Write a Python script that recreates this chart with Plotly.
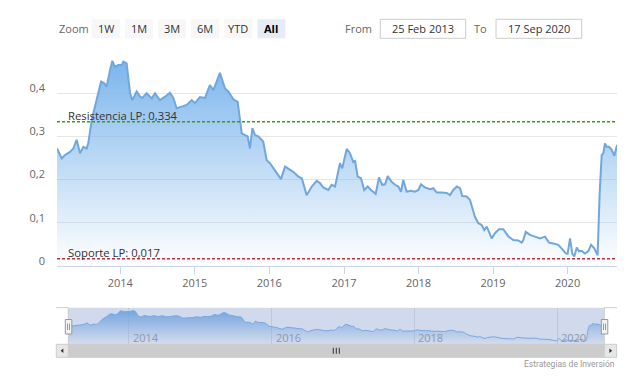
import plotly.graph_objects as go

# ---------------- data ----------------
dates = [
    "2013-02-25", "2013-03-20", "2013-04-05", "2013-04-30", "2013-05-16", "2013-06-01",
    "2013-06-18", "2013-07-04", "2013-07-20", "2013-07-28", "2013-08-14", "2013-09-07",
    "2013-09-29", "2013-10-15", "2013-10-26", "2013-11-12", "2013-11-23", "2013-12-06",
    "2013-12-22", "2014-01-08", "2014-01-16", "2014-02-01", "2014-02-18", "2014-03-01",
    "2014-03-22", "2014-04-08", "2014-04-19", "2014-05-10", "2014-06-04", "2014-06-20",
    "2014-07-14", "2014-08-08", "2014-09-01", "2014-09-18", "2014-10-04", "2014-10-29",
    "2014-11-22", "2014-12-17", "2015-01-02", "2015-01-26", "2015-02-20", "2015-03-16",
    "2015-04-02", "2015-05-04", "2015-05-29", "2015-06-14", "2015-07-09", "2015-07-30",
    "2015-08-19", "2015-09-04", "2015-09-17", "2015-09-28", "2015-10-10", "2015-10-23",
    "2015-11-08", "2015-12-02", "2015-12-19", "2016-01-04", "2016-01-29", "2016-02-27",
    "2016-03-18", "2016-04-11", "2016-04-27", "2016-05-22", "2016-06-08", "2016-07-02",
    "2016-07-27", "2016-08-20", "2016-09-05", "2016-09-21", "2016-10-16", "2016-11-01",
    "2016-11-18", "2016-12-12", "2016-12-23", "2017-01-14", "2017-01-30", "2017-02-15",
    "2017-02-24", "2017-03-09", "2017-03-25", "2017-04-10", "2017-04-27", "2017-05-13",
    "2017-06-05", "2017-06-21", "2017-07-07", "2017-07-21", "2017-08-03", "2017-08-22",
    "2017-09-08", "2017-09-24", "2017-10-07", "2017-10-18", "2017-11-04", "2017-11-25",
    "2017-12-14", "2017-12-31", "2018-01-13", "2018-02-01", "2018-02-26", "2018-03-14",
    "2018-03-31", "2018-04-24", "2018-05-19", "2018-06-04", "2018-06-20", "2018-07-07",
    "2018-07-23", "2018-08-03", "2018-08-25", "2018-09-10", "2018-09-21", "2018-10-04",
    "2018-10-21", "2018-11-06", "2018-11-19", "2018-12-01", "2018-12-12", "2018-12-25",
    "2019-01-10", "2019-01-30", "2019-02-20", "2019-03-04", "2019-03-16", "2019-04-10",
    "2019-05-04", "2019-05-21", "2019-05-29", "2019-06-10", "2019-07-01", "2019-07-25",
    "2019-08-19", "2019-09-12", "2019-10-02", "2019-10-23", "2019-11-16", "2019-12-06",
    "2019-12-23", "2020-01-01", "2020-01-13", "2020-01-24", "2020-02-03", "2020-02-15",
    "2020-02-26", "2020-03-10", "2020-03-26", "2020-04-11", "2020-04-25", "2020-05-11",
    "2020-05-27", "2020-06-06", "2020-06-16", "2020-06-24", "2020-07-02", "2020-07-10",
    "2020-07-22", "2020-08-04", "2020-08-17", "2020-08-30",
]
values = [
    0.272, 0.249, 0.257, 0.264, 0.272, 0.292,
    0.261, 0.276, 0.272, 0.284, 0.338, 0.384,
    0.427, 0.423, 0.415, 0.454, 0.475, 0.461,
    0.465, 0.465, 0.473, 0.469, 0.400, 0.384,
    0.404, 0.392, 0.389, 0.400, 0.388, 0.400,
    0.384, 0.392, 0.401, 0.389, 0.365, 0.369,
    0.373, 0.384, 0.377, 0.391, 0.389, 0.419,
    0.407, 0.447, 0.411, 0.404, 0.386, 0.380,
    0.307, 0.303, 0.300, 0.272, 0.319, 0.303,
    0.300, 0.288, 0.245, 0.238, 0.222, 0.201,
    0.230, 0.222, 0.218, 0.207, 0.203, 0.164,
    0.184, 0.197, 0.192, 0.182, 0.176, 0.188,
    0.184, 0.238, 0.226, 0.271, 0.261, 0.241,
    0.243, 0.207, 0.203, 0.176, 0.184, 0.176,
    0.167, 0.205, 0.188, 0.189, 0.208, 0.195,
    0.188, 0.184, 0.172, 0.199, 0.172, 0.174,
    0.172, 0.176, 0.189, 0.182, 0.178, 0.180,
    0.170, 0.170, 0.169, 0.164, 0.176, 0.184,
    0.180, 0.162, 0.161, 0.153, 0.134, 0.114,
    0.099, 0.095, 0.083, 0.091, 0.079, 0.064,
    0.076, 0.085, 0.085, 0.077, 0.069, 0.060,
    0.059, 0.054, 0.060, 0.079, 0.072, 0.068,
    0.064, 0.068, 0.054, 0.052, 0.049, 0.039,
    0.029, 0.028, 0.064, 0.028, 0.022, 0.043,
    0.034, 0.035, 0.029, 0.034, 0.049, 0.041,
    0.025, 0.168, 0.257, 0.261, 0.284, 0.276,
    0.276, 0.269, 0.255, 0.280,
]
resistencia_value = 0.334
soporte_value = 0.017
resistencia_label = "Resistencia LP: 0,334"
soporte_label = "Soporte LP: 0,017"
y_tick_values = [0, 0.1, 0.2, 0.3, 0.4, 0.5]
y_tick_labels = ["0", "0,1", "0,2", "0,3", "0,4", ""]
nav_tick_dates = ["2014-01-01", "2016-01-01", "2018-01-01", "2020-01-01"]
nav_tick_labels = ["2014", "2016", "2018", "2020"]
zoom_buttons = ["1W", "1M", "3M", "6M", "YTD", "All"]
active_button = "All"
from_date_label = "25 Feb 2013"
to_date_label = "17 Sep 2020"
credits_text = "Estrategias de Inversión"

# ---------------- geometry helpers ----------------
W, H = 633, 379
L, R, T, B = 57, 16, 50, 35
PW = W - L - R
PH = H - T - B


def px(x):
    return (x - L) / PW


def py(y):
    return (H - B - y) / PH


FONT = "Open Sans"
BLUE = "#7cb5ec"
grad = dict(type="vertical",
            colorscale=[[0, "rgba(124,181,236,0.0)"], [1, "rgba(124,181,236,1)"]])

fig = go.Figure()
fig.add_trace(go.Scatter(
    x=dates, y=values, mode="lines", line=dict(color="#70a7dc", width=2),
    fill="tozeroy", fillgradient=grad, xaxis="x", yaxis="y", hoverinfo="skip",
    showlegend=False))
fig.add_trace(go.Scatter(
    x=dates, y=values, mode="lines", line=dict(color=BLUE, width=1, shape="spline"),
    fill="tozeroy", fillgradient=grad, xaxis="x2", yaxis="y2", hoverinfo="skip",
    showlegend=False))

shapes = []
annotations = []

# support / resistance lines
for val, col in [(resistencia_value, "#3c9a1c"), (soporte_value, "#c0303a")]:
    shapes.append(dict(type="line", xref="x domain", yref="y", x0=0, x1=1, y0=val, y1=val,
                       line=dict(color=col, width=1.5, dash="3px,2px"), layer="above"))
for val, txt in [(resistencia_value, resistencia_label), (soporte_value, soporte_label)]:
    annotations.append(dict(text=txt, xref="paper", yref="y", x=px(65.5), y=val,
                            xanchor="left", yanchor="middle", yshift=6, showarrow=False,
                            font=dict(family=FONT, size=11.3, color="#333333")))

# range selector (drawn)
btn_top, btn_bot = 19.3, 38.3
annotations.append(dict(text="Zoom", xref="paper", yref="paper", x=px(56.5), y=py(28.8),
                        xanchor="left", yanchor="middle", showarrow=False,
                        font=dict(family=FONT, size=11, color="#666666")))
for i, lab in enumerate(zoom_buttons):
    x0 = 91.7 + i * 33.15
    x1 = x0 + 28
    active = lab == active_button
    shapes.append(dict(type="rect", xref="paper", yref="paper", x0=px(x0), x1=px(x1),
                       y0=py(btn_bot), y1=py(btn_top), line=dict(width=0),
                       fillcolor="#e6ebf5" if active else "#f7f7f7", layer="above"))
    annotations.append(dict(text=("<b>%s</b>" % lab) if active else lab, xref="paper",
                            yref="paper", x=px((x0 + x1) / 2), y=py(28.8), xanchor="center",
                            yanchor="middle", showarrow=False,
                            font=dict(family=FONT, size=11,
                                      color="#000000" if active else "#333333")))

# From / To inputs
annotations.append(dict(text="From", xref="paper", yref="paper", x=px(373.5), y=py(28.8),
                        xanchor="right", yanchor="middle", showarrow=False,
                        font=dict(family=FONT, size=11, color="#666666")))
annotations.append(dict(text="To", xref="paper", yref="paper", x=px(489), y=py(28.8),
                        xanchor="right", yanchor="middle", showarrow=False,
                        font=dict(family=FONT, size=11, color="#666666")))
for (x0, x1), txt in [((380.3, 465.7), from_date_label), ((496, 581.7), to_date_label)]:
    shapes.append(dict(type="rect", xref="paper", yref="paper", x0=px(x0), x1=px(x1),
                       y0=py(btn_bot), y1=py(btn_top), line=dict(width=1, color="#cccccc"),
                       fillcolor="white", layer="above"))
    annotations.append(dict(text=txt, xref="paper", yref="paper", x=px((x0 + x1) / 2),
                            y=py(28.8), xanchor="center", yanchor="middle", showarrow=False,
                            font=dict(family=FONT, size=11, color="#333333")))

# navigator
nav_l, nav_r, nav_t, nav_b = 68.3, 604.3, 307.7, 344.3
shapes.append(dict(type="rect", xref="paper", yref="paper", x0=px(nav_l), x1=px(nav_r),
                   y0=py(nav_b), y1=py(nav_t), line=dict(width=0),
                   fillcolor="rgba(102,133,194,0.3)", layer="above"))
for xa, xb in [(56, nav_l), (nav_r, 617)]:
    shapes.append(dict(type="line", xref="paper", yref="paper", x0=px(xa), x1=px(xb),
                       y0=py(nav_t), y1=py(nav_t), line=dict(color="#cccccc", width=1),
                       layer="above"))
for xv in (nav_l, nav_r):
    shapes.append(dict(type="line", xref="paper", yref="paper", x0=px(xv), x1=px(xv),
                       y0=py(nav_t), y1=py(nav_b), line=dict(color="#cccccc", width=1),
                       layer="above"))
for d, lab in zip(nav_tick_dates, nav_tick_labels):
    annotations.append(dict(text=lab, xref="x2", yref="paper", x=d, y=py(337),
                            xanchor="left", yanchor="middle", xshift=2, showarrow=False,
                            font=dict(family=FONT, size=11, color="#8f98aa")))

# scrollbar
sb_t, sb_b = 344.3, 357.3
shapes.append(dict(type="rect", xref="paper", yref="paper", x0=px(nav_l), x1=px(nav_r),
                   y0=py(sb_b), y1=py(sb_t), line=dict(width=1, color="#cccccc"),
                   fillcolor="#cccccc", layer="above"))
for xa, xb in [(56.3, nav_l), (nav_r, 616.6)]:
    shapes.append(dict(type="rect", xref="paper", yref="paper", x0=px(xa), x1=px(xb),
                       y0=py(sb_b), y1=py(sb_t), line=dict(width=1, color="#cccccc"),
                       fillcolor="#e6e6e6", layer="above"))
mid_y = (sb_t + sb_b) / 2


def tri(points):
    s = "M " + " L ".join("%f,%f" % (px(a), py(b)) for a, b in points) + " Z"
    return s


shapes.append(dict(type="path", xref="paper", yref="paper",
                   path=tri([(60.6, mid_y), (63.4, mid_y - 2.2), (63.4, mid_y + 2.2)]),
                   fillcolor="#333333", line=dict(width=0), layer="above"))
shapes.append(dict(type="path", xref="paper", yref="paper",
                   path=tri([(612.2, mid_y), (609.4, mid_y - 2.2), (609.4, mid_y + 2.2)]),
                   fillcolor="#333333", line=dict(width=0), layer="above"))
cx = (nav_l + nav_r) / 2
for dx in (-3, 0, 3):
    shapes.append(dict(type="line", xref="paper", yref="paper", x0=px(cx + dx), x1=px(cx + dx),
                       y0=py(mid_y - 3), y1=py(mid_y + 3), line=dict(color="#333333", width=1),
                       layer="above"))

# handles
for hx in (nav_l, nav_r):
    shapes.append(dict(type="rect", xref="paper", yref="paper", x0=px(hx - 3), x1=px(hx + 3.5),
                       y0=py(334), y1=py(319.5), line=dict(width=1, color="#999999"),
                       fillcolor="#f2f2f2", layer="above"))
    for dx in (-0.8, 1.2):
        shapes.append(dict(type="line", xref="paper", yref="paper", x0=px(hx + dx),
                           x1=px(hx + dx), y0=py(323.5), y1=py(330),
                           line=dict(width=1, color="#999999"), layer="above"))

annotations.append(dict(text=credits_text, xref="paper", yref="paper", x=px(616.5),
                        y=py(363.5), xanchor="right", yanchor="middle", showarrow=False,
                        font=dict(family="Roboto", size=8.5, color="#999999")))

fig.update_layout(
    width=W, height=H, margin=dict(l=L, r=R, t=T, b=B),
    paper_bgcolor="white", plot_bgcolor="white",
    font=dict(family=FONT, size=11, color="#666666"),
    separators=",.",
    showlegend=False, hovermode=False,
    xaxis=dict(domain=[0, 1], anchor="y", type="date", range=[dates[0], dates[-1]],
               showgrid=False, zeroline=False, showline=True, linecolor="#ccd6eb",
               ticks="outside", ticklen=7, tickcolor="#ccd6eb", tickformat="%Y",
               dtick="M12", tick0="2014-01-01", automargin=False,
               tickfont=dict(family=FONT, size=11, color="#666666")),
    yaxis=dict(domain=[py(266), 1], anchor="x", range=[0, 0.5], tickvals=y_tick_values,
               ticktext=y_tick_labels, showgrid=True, gridcolor="#e6e6e6", zeroline=False,
               showline=False, ticks="", ticklabelstandoff=11, ticklabelshift=-5,
               automargin=False, tickfont=dict(family=FONT, size=11, color="#666666")),
    xaxis2=dict(domain=[px(nav_l), px(nav_r)], anchor="y2", type="date",
                range=[dates[0], dates[-1]], showgrid=True, gridcolor="#e6e6e6",
                zeroline=False, showline=False, ticks="", tickvals=nav_tick_dates,
                showticklabels=False, automargin=False),
    yaxis2=dict(domain=[0, py(nav_t)], anchor="x2", range=[-0.02, 0.52], visible=False,
                showgrid=False, zeroline=False),
    shapes=shapes, annotations=annotations,
)

fig.write_html("out.html", config={"displayModeBar": False},
               post_script="document.body.style.margin='0px';document.body.style.overflow='hidden';")
